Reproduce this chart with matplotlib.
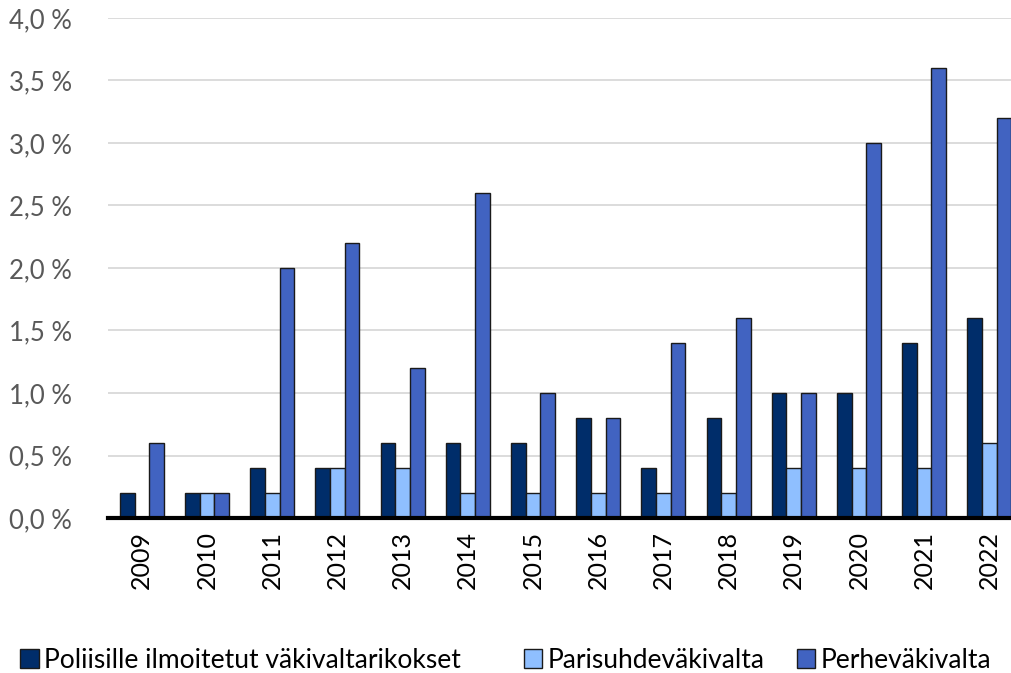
import numpy as np
import matplotlib.pyplot as plt
from matplotlib.patches import Patch

plt.rcParams['font.family'] = ['Lato', 'DejaVu Sans']

years = ['2009', '2010', '2011', '2012', '2013', '2014', '2015',
         '2016', '2017', '2018', '2019', '2020', '2021', '2022']
poliisi = [0.2, 0.2, 0.4, 0.4, 0.6, 0.6, 0.6, 0.8, 0.4, 0.8, 1.0, 1.0, 1.4, 1.6]
parisuhde = [0.0, 0.2, 0.2, 0.4, 0.4, 0.2, 0.2, 0.2, 0.2, 0.2, 0.4, 0.4, 0.4, 0.6]
perhe = [0.6, 0.2, 2.0, 2.2, 1.2, 2.6, 1.0, 0.8, 1.4, 1.6, 1.0, 3.0, 3.6, 3.2]
names = ['Poliisille ilmoitetut väkivaltarikokset', 'Parisuhdeväkivalta', 'Perheväkivalta']
colors = ['#002d6a', '#8fbfff', '#4163c1']

fig = plt.figure(figsize=(10.11, 6.73), dpi=100)
ax = fig.add_axes([0.1068, 0.2303, 0.904, 0.743])

x = np.arange(len(years))
w = 0.225
for i, (vals, c) in enumerate(zip([poliisi, parisuhde, perhe], colors)):
    v = np.array(vals)
    m = v > 0
    ax.bar(x[m] + (i - 1) * w, v[m], w, color=c, edgecolor='#1a1a1a', linewidth=1.0, zorder=3)

ax.set_xlim(-0.52, 13.5)
ax.set_ylim(0, 4.0)
yt = np.arange(0, 4.01, 0.5)
ax.set_yticks(yt)
ax.set_yticklabels([f'{t:.1f} %'.replace('.', ',') for t in yt], color='#595959', fontsize=18.5)
ax.set_xticks(x)
ax.set_xticklabels(years, rotation=90, fontsize=18, color='black')
ax.tick_params(axis='both', length=0)
ax.tick_params(axis='y', pad=26)
ax.tick_params(axis='x', pad=9)
ax.grid(axis='y', color='#d9d9d9', linewidth=1.3, zorder=0)
for s in ['top', 'right', 'left']:
    ax.spines[s].set_visible(False)
ax.spines['bottom'].set_linewidth(3)
ax.spines['bottom'].set_color('black')
ax.spines['bottom'].set_zorder(4)

handles = [Patch(facecolor=c, edgecolor='#1a1a1a', linewidth=1.0) for c in colors]
leg_x = [0.020, 0.518, 0.788]
for h, n, lx in zip(handles, names, leg_x):
    fig.legend([h], [n], loc='center left', bbox_to_anchor=(lx, 0.019), frameon=False,
               fontsize=19, handlelength=0.7, handleheight=0.7, handletextpad=0.22,
               borderpad=0, borderaxespad=0)

fig.savefig('out.png', dpi=100)
